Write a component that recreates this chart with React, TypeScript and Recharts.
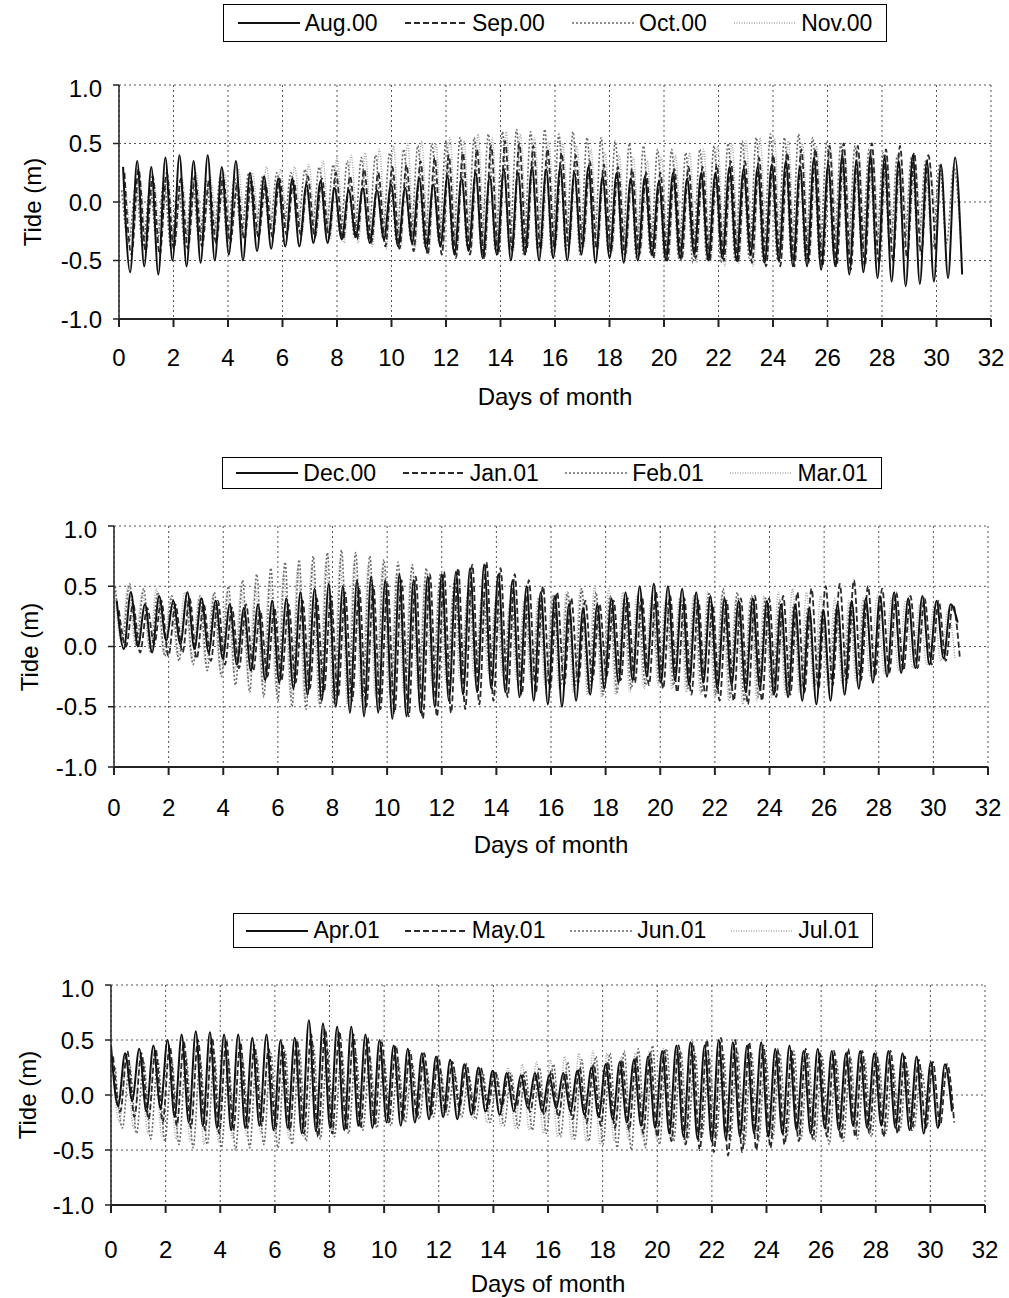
import { CartesianGrid, Line, LineChart, XAxis, YAxis } from 'recharts'

// tidal cycle length in days (semi-diurnal)
const PERIOD = 0.5175
const xTicks = [0, 2, 4, 6, 8, 10, 12, 14, 16, 18, 20, 22, 24, 26, 28, 30, 32]
const yTicks = [-1, -0.5, 0, 0.5, 1]

// ---- panel 1: Aug.00 - Nov.00 (high / low water per cycle, m)
const augHigh = [0.3, 0.35, 0.3, 0.38, 0.4, 0.35, 0.4, 0.3, 0.35, 0.25, 0.22, 0.2, 0.2, 0.15, 0.18, 0.12, 0.1, 0.12, 0.1, 0.15, 0.12, 0.2, 0.15, 0.22, 0.2, 0.25, 0.22, 0.28, 0.25, 0.3, 0.28, 0.3, 0.25, 0.3, 0.22, 0.25, 0.2, 0.22, 0.18, 0.25, 0.2, 0.25, 0.25, 0.3, 0.28, 0.3, 0.32, 0.35, 0.3, 0.38, 0.32, 0.4, 0.35, 0.4, 0.38, 0.35, 0.4, 0.35, 0.32, 0.38]
const augLow = [-0.6, -0.55, -0.62, -0.5, -0.55, -0.52, -0.5, -0.45, -0.5, -0.42, -0.4, -0.38, -0.38, -0.35, -0.35, -0.32, -0.3, -0.35, -0.32, -0.38, -0.35, -0.4, -0.38, -0.45, -0.42, -0.48, -0.45, -0.5, -0.45, -0.5, -0.48, -0.5, -0.45, -0.52, -0.48, -0.52, -0.5, -0.45, -0.5, -0.48, -0.45, -0.5, -0.48, -0.5, -0.45, -0.52, -0.5, -0.55, -0.55, -0.58, -0.55, -0.62, -0.6, -0.65, -0.68, -0.72, -0.7, -0.68, -0.65, -0.62]
const sepHigh = [0.25, 0.28, 0.22, 0.25, 0.2, 0.22, 0.18, 0.2, 0.15, 0.18, 0.15, 0.2, 0.18, 0.22, 0.2, 0.25, 0.22, 0.28, 0.25, 0.3, 0.32, 0.35, 0.38, 0.4, 0.42, 0.45, 0.48, 0.52, 0.5, 0.48, 0.45, 0.42, 0.4, 0.35, 0.32, 0.3, 0.28, 0.25, 0.25, 0.28, 0.3, 0.3, 0.32, 0.35, 0.35, 0.38, 0.4, 0.42, 0.45, 0.45, 0.48, 0.5, 0.48, 0.5, 0.45, 0.48, 0.42, 0.4]
const sepLow = [-0.45, -0.42, -0.45, -0.4, -0.4, -0.38, -0.35, -0.35, -0.32, -0.3, -0.3, -0.28, -0.28, -0.3, -0.3, -0.32, -0.32, -0.35, -0.38, -0.4, -0.42, -0.45, -0.45, -0.48, -0.45, -0.48, -0.45, -0.42, -0.42, -0.4, -0.4, -0.38, -0.38, -0.4, -0.42, -0.45, -0.45, -0.48, -0.5, -0.5, -0.48, -0.5, -0.5, -0.52, -0.52, -0.55, -0.55, -0.55, -0.52, -0.55, -0.55, -0.58, -0.55, -0.52, -0.5, -0.48, -0.45, -0.42]
const octHigh = [0.1, 0.15, 0.12, 0.18, 0.15, 0.2, 0.18, 0.22, 0.2, 0.25, 0.22, 0.25, 0.25, 0.28, 0.3, 0.32, 0.35, 0.38, 0.4, 0.42, 0.45, 0.48, 0.5, 0.52, 0.55, 0.55, 0.58, 0.6, 0.62, 0.6, 0.62, 0.58, 0.6, 0.55, 0.55, 0.52, 0.5, 0.48, 0.45, 0.45, 0.42, 0.45, 0.48, 0.5, 0.52, 0.55, 0.58, 0.55, 0.58, 0.55, 0.52, 0.5, 0.48, 0.45, 0.42, 0.4, 0.38, 0.35, 0.32, 0.3]
const octLow = [-0.35, -0.38, -0.35, -0.4, -0.38, -0.35, -0.32, -0.3, -0.28, -0.25, -0.25, -0.22, -0.22, -0.25, -0.25, -0.28, -0.3, -0.32, -0.3, -0.35, -0.32, -0.38, -0.35, -0.4, -0.38, -0.4, -0.42, -0.4, -0.45, -0.42, -0.45, -0.42, -0.45, -0.4, -0.42, -0.45, -0.48, -0.45, -0.5, -0.48, -0.52, -0.5, -0.52, -0.5, -0.48, -0.52, -0.5, -0.48, -0.5, -0.48, -0.45, -0.45, -0.42, -0.45, -0.42, -0.4, -0.38, -0.4, -0.35, -0.32]
const novHigh = [0.15, 0.2, 0.18, 0.22, 0.2, 0.25, 0.22, 0.25, 0.28, 0.25, 0.3, 0.28, 0.3, 0.32, 0.35, 0.38, 0.4, 0.42, 0.45, 0.48, 0.5, 0.52, 0.5, 0.55, 0.52, 0.58, 0.55, 0.6, 0.58, 0.55, 0.52, 0.5, 0.48, 0.45, 0.42, 0.4, 0.38, 0.35, 0.38, 0.4, 0.42, 0.45, 0.48, 0.5, 0.52, 0.55, 0.55, 0.52, 0.5, 0.48, 0.45, 0.42, 0.4, 0.38, 0.35, 0.32, 0.3, 0.28]
const novLow = [-0.3, -0.32, -0.3, -0.35, -0.32, -0.3, -0.28, -0.25, -0.25, -0.22, -0.25, -0.25, -0.28, -0.3, -0.32, -0.35, -0.35, -0.38, -0.4, -0.4, -0.42, -0.45, -0.42, -0.45, -0.42, -0.45, -0.4, -0.42, -0.38, -0.4, -0.38, -0.35, -0.38, -0.4, -0.42, -0.45, -0.45, -0.48, -0.5, -0.48, -0.52, -0.5, -0.55, -0.52, -0.55, -0.5, -0.48, -0.5, -0.45, -0.48, -0.42, -0.4, -0.38, -0.35, -0.32, -0.3, -0.28, -0.25]

// ---- panel 2: Dec.00 - Mar.01
const decHigh = [0.38, 0.45, 0.35, 0.42, 0.38, 0.45, 0.4, 0.38, 0.35, 0.32, 0.35, 0.38, 0.4, 0.45, 0.48, 0.52, 0.5, 0.55, 0.58, 0.55, 0.6, 0.55, 0.58, 0.6, 0.62, 0.65, 0.68, 0.6, 0.55, 0.5, 0.45, 0.42, 0.35, 0.32, 0.35, 0.4, 0.45, 0.5, 0.52, 0.5, 0.48, 0.45, 0.42, 0.4, 0.38, 0.4, 0.38, 0.35, 0.35, 0.32, 0.3, 0.35, 0.38, 0.4, 0.42, 0.45, 0.4, 0.42, 0.38, 0.35]
const decLow = [-0.02, 0, -0.05, 0.05, 0.02, -0.02, -0.05, -0.1, -0.15, -0.2, -0.28, -0.3, -0.35, -0.4, -0.45, -0.5, -0.55, -0.58, -0.55, -0.6, -0.58, -0.55, -0.5, -0.45, -0.4, -0.38, -0.35, -0.38, -0.42, -0.45, -0.48, -0.5, -0.45, -0.4, -0.35, -0.3, -0.28, -0.25, -0.3, -0.28, -0.32, -0.3, -0.35, -0.32, -0.38, -0.35, -0.4, -0.42, -0.45, -0.48, -0.45, -0.4, -0.35, -0.3, -0.25, -0.22, -0.18, -0.15, -0.1, 0.2]
const janHigh = [0.3, 0.35, 0.32, 0.38, 0.35, 0.4, 0.35, 0.38, 0.32, 0.35, 0.3, 0.32, 0.35, 0.38, 0.4, 0.42, 0.45, 0.48, 0.5, 0.52, 0.55, 0.58, 0.6, 0.62, 0.65, 0.68, 0.7, 0.65, 0.6, 0.55, 0.5, 0.45, 0.4, 0.38, 0.35, 0.38, 0.4, 0.42, 0.45, 0.42, 0.4, 0.38, 0.35, 0.38, 0.4, 0.42, 0.4, 0.42, 0.45, 0.48, 0.5, 0.52, 0.55, 0.5, 0.48, 0.45, 0.42, 0.4, 0.38, 0.35]
const janLow = [0, -0.05, 0.02, -0.08, -0.05, -0.1, -0.12, -0.15, -0.18, -0.2, -0.25, -0.28, -0.3, -0.35, -0.38, -0.42, -0.45, -0.5, -0.52, -0.55, -0.58, -0.6, -0.58, -0.55, -0.52, -0.48, -0.45, -0.42, -0.4, -0.38, -0.35, -0.32, -0.3, -0.28, -0.25, -0.28, -0.3, -0.32, -0.35, -0.38, -0.4, -0.42, -0.45, -0.45, -0.48, -0.45, -0.42, -0.4, -0.38, -0.35, -0.32, -0.3, -0.28, -0.25, -0.22, -0.2, -0.18, -0.15, -0.12, -0.1]
const febHigh = [0.5, 0.52, 0.48, 0.45, 0.42, 0.4, 0.42, 0.45, 0.5, 0.55, 0.6, 0.65, 0.7, 0.72, 0.75, 0.78, 0.8, 0.78, 0.75, 0.72, 0.7, 0.68, 0.65, 0.6, 0.55, 0.5, 0.45, 0.42, 0.4, 0.38, 0.4, 0.42, 0.45, 0.48, 0.45, 0.42, 0.4, 0.38, 0.35, 0.38, 0.4, 0.42, 0.45, 0.48, 0.45, 0.42, 0.4, 0.38, 0.35, 0.32, 0.3, 0.32, 0.35, 0.38]
const febLow = [0.05, 0, -0.05, -0.08, -0.12, -0.15, -0.2, -0.25, -0.32, -0.38, -0.42, -0.45, -0.5, -0.52, -0.5, -0.48, -0.45, -0.42, -0.4, -0.38, -0.35, -0.32, -0.3, -0.28, -0.25, -0.22, -0.2, -0.22, -0.25, -0.28, -0.3, -0.32, -0.35, -0.38, -0.4, -0.38, -0.35, -0.32, -0.3, -0.32, -0.35, -0.38, -0.4, -0.42, -0.45, -0.42, -0.4, -0.38, -0.35, -0.32, -0.3, -0.28, -0.25, -0.22]
const marHigh = [0.55, 0.5, 0.45, 0.48, 0.42, 0.45, 0.4, 0.42, 0.45, 0.48, 0.5, 0.55, 0.6, 0.65, 0.68, 0.7, 0.72, 0.7, 0.68, 0.65, 0.6, 0.58, 0.55, 0.5, 0.45, 0.42, 0.4, 0.38, 0.35, 0.38, 0.4, 0.42, 0.45, 0.48, 0.5, 0.48, 0.45, 0.42, 0.4, 0.38, 0.4, 0.42, 0.45, 0.42, 0.4, 0.38, 0.42, 0.45, 0.48, 0.45, 0.42, 0.4, 0.38, 0.4, 0.42, 0.4, 0.38, 0.35, 0.32, 0.3]
const marLow = [0.05, 0.02, -0.02, -0.05, -0.08, -0.1, -0.15, -0.18, -0.22, -0.28, -0.32, -0.38, -0.42, -0.45, -0.48, -0.5, -0.48, -0.45, -0.42, -0.4, -0.38, -0.35, -0.32, -0.3, -0.28, -0.25, -0.22, -0.25, -0.28, -0.3, -0.32, -0.35, -0.38, -0.4, -0.42, -0.4, -0.38, -0.35, -0.32, -0.35, -0.38, -0.4, -0.42, -0.45, -0.48, -0.45, -0.42, -0.4, -0.38, -0.35, -0.32, -0.3, -0.28, -0.25, -0.22, -0.2, -0.18, -0.15, -0.12, -0.1]

// ---- panel 3: Apr.01 - Jul.01
const aprHigh = [0.45, 0.38, 0.42, 0.45, 0.5, 0.55, 0.58, 0.57, 0.55, 0.55, 0.52, 0.55, 0.5, 0.52, 0.68, 0.65, 0.62, 0.62, 0.55, 0.5, 0.45, 0.42, 0.38, 0.35, 0.32, 0.28, 0.25, 0.22, 0.2, 0.18, 0.2, 0.18, 0.2, 0.22, 0.25, 0.28, 0.3, 0.32, 0.35, 0.4, 0.45, 0.48, 0.45, 0.5, 0.48, 0.45, 0.48, 0.42, 0.45, 0.4, 0.42, 0.4, 0.38, 0.4, 0.38, 0.4, 0.38, 0.35, 0.3, 0.28]
const aprLow = [-0.1, -0.05, -0.15, -0.12, -0.2, -0.25, -0.28, -0.3, -0.32, -0.3, -0.28, -0.32, -0.3, -0.35, -0.33, -0.3, -0.32, -0.28, -0.3, -0.25, -0.28, -0.25, -0.22, -0.2, -0.22, -0.18, -0.15, -0.18, -0.15, -0.12, -0.15, -0.12, -0.15, -0.18, -0.2, -0.22, -0.25, -0.28, -0.3, -0.35, -0.38, -0.4, -0.42, -0.4, -0.38, -0.35, -0.38, -0.35, -0.32, -0.35, -0.3, -0.32, -0.28, -0.3, -0.28, -0.3, -0.32, -0.35, -0.3, -0.15]
const mayHigh = [0.35, 0.4, 0.38, 0.42, 0.45, 0.48, 0.5, 0.52, 0.5, 0.48, 0.45, 0.42, 0.45, 0.5, 0.55, 0.6, 0.58, 0.55, 0.52, 0.48, 0.45, 0.4, 0.38, 0.35, 0.3, 0.28, 0.25, 0.22, 0.2, 0.18, 0.2, 0.22, 0.2, 0.25, 0.28, 0.3, 0.32, 0.35, 0.38, 0.4, 0.45, 0.48, 0.5, 0.52, 0.5, 0.48, 0.45, 0.42, 0.4, 0.42, 0.38, 0.4, 0.42, 0.4, 0.38, 0.4, 0.35, 0.32, 0.3, 0.28]
const mayLow = [-0.15, -0.2, -0.22, -0.25, -0.28, -0.3, -0.32, -0.35, -0.32, -0.3, -0.28, -0.3, -0.32, -0.35, -0.38, -0.35, -0.32, -0.3, -0.28, -0.25, -0.22, -0.2, -0.18, -0.15, -0.12, -0.15, -0.12, -0.1, -0.12, -0.15, -0.18, -0.2, -0.22, -0.25, -0.28, -0.3, -0.32, -0.35, -0.38, -0.42, -0.45, -0.5, -0.52, -0.55, -0.52, -0.5, -0.48, -0.45, -0.42, -0.4, -0.38, -0.4, -0.38, -0.35, -0.38, -0.35, -0.32, -0.3, -0.28, -0.25]
const junHigh = [0.25, 0.28, 0.3, 0.32, 0.3, 0.35, 0.32, 0.35, 0.3, 0.32, 0.35, 0.38, 0.4, 0.42, 0.45, 0.42, 0.4, 0.38, 0.35, 0.32, 0.3, 0.28, 0.25, 0.22, 0.2, 0.18, 0.2, 0.18, 0.2, 0.22, 0.25, 0.28, 0.3, 0.32, 0.35, 0.38, 0.4, 0.42, 0.45, 0.42, 0.4, 0.38, 0.35, 0.38, 0.4, 0.38, 0.35, 0.38, 0.4, 0.38, 0.35, 0.32, 0.35, 0.32, 0.3, 0.28, 0.25, 0.22]
const junLow = [-0.3, -0.35, -0.4, -0.42, -0.45, -0.48, -0.45, -0.48, -0.5, -0.48, -0.45, -0.48, -0.45, -0.42, -0.4, -0.38, -0.35, -0.32, -0.3, -0.28, -0.25, -0.22, -0.2, -0.18, -0.2, -0.22, -0.25, -0.28, -0.3, -0.32, -0.35, -0.38, -0.4, -0.42, -0.45, -0.48, -0.5, -0.48, -0.45, -0.42, -0.4, -0.38, -0.4, -0.42, -0.45, -0.42, -0.4, -0.38, -0.4, -0.42, -0.45, -0.42, -0.4, -0.38, -0.35, -0.32, -0.3, -0.28]
const julHigh = [0.3, 0.32, 0.35, 0.38, 0.4, 0.42, 0.45, 0.42, 0.4, 0.38, 0.35, 0.32, 0.3, 0.32, 0.35, 0.38, 0.4, 0.42, 0.4, 0.38, 0.35, 0.32, 0.3, 0.28, 0.25, 0.22, 0.2, 0.22, 0.25, 0.28, 0.3, 0.32, 0.35, 0.38, 0.4, 0.38, 0.35, 0.38, 0.4, 0.42, 0.4, 0.38, 0.35, 0.32, 0.35, 0.38, 0.4, 0.38, 0.35, 0.32, 0.3, 0.32, 0.35, 0.32, 0.3, 0.28, 0.25, 0.22, 0.2, 0.18]
const julLow = [-0.25, -0.3, -0.35, -0.38, -0.4, -0.42, -0.45, -0.42, -0.4, -0.38, -0.35, -0.38, -0.4, -0.38, -0.35, -0.32, -0.3, -0.28, -0.25, -0.22, -0.2, -0.18, -0.15, -0.18, -0.2, -0.22, -0.25, -0.28, -0.3, -0.32, -0.35, -0.38, -0.4, -0.42, -0.45, -0.42, -0.4, -0.38, -0.4, -0.42, -0.45, -0.42, -0.4, -0.38, -0.35, -0.38, -0.4, -0.38, -0.35, -0.32, -0.35, -0.32, -0.3, -0.28, -0.25, -0.22, -0.2, -0.18, -0.15, -0.12]

const STYLES = [
  { stroke: '#111111', dash: undefined, width: 2 },
  { stroke: '#2a2a2a', dash: '6 3', width: 1.8 },
  { stroke: '#6a6a6a', dash: '2 2', width: 1.6 },
  { stroke: '#a8a8a8', dash: '1 1.5', width: 1.5 },
]

function buildSeries(high: number[], low: number[], phase: number, days: number) {
  const pts: { t: number; y: number }[] = []
  for (let i = 0; i < high.length; i++) {
    const th = phase + i * PERIOD
    if (th <= days) pts.push({ t: +th.toFixed(3), y: high[i] })
    const tl = th + PERIOD / 2
    if (tl <= days && low[i] !== undefined) pts.push({ t: +tl.toFixed(3), y: low[i] })
  }
  return pts
}

const panels = [
  {
    plotLeft: 119, plotRight: 991, plotTop: 85, plotBottom: 319, tickGap: 30, xTitleY: 397, yTitleX: 33,
    legend: { left: 223, top: 4, width: 664, height: 38 },
    series: [
      { name: 'Aug.00', data: buildSeries(augHigh, augLow, 0.15, 31) },
      { name: 'Sep.00', data: buildSeries(sepHigh, sepLow, 0.2, 30) },
      { name: 'Oct.00', data: buildSeries(octHigh, octLow, 0.1, 31) },
      { name: 'Nov.00', data: buildSeries(novHigh, novLow, 0.24, 30) },
    ],
  },
  {
    plotLeft: 114, plotRight: 988, plotTop: 526, plotBottom: 767, tickGap: 32, xTitleY: 845, yTitleX: 30,
    legend: { left: 222, top: 457, width: 660, height: 32 },
    series: [
      { name: 'Dec.00', data: buildSeries(decHigh, decLow, 0.1, 31) },
      { name: 'Jan.01', data: buildSeries(janHigh, janLow, 0.18, 31) },
      { name: 'Feb.01', data: buildSeries(febHigh, febLow, 0.05, 28) },
      { name: 'Mar.01', data: buildSeries(marHigh, marLow, 0.0, 31) },
    ],
  },
  {
    plotLeft: 111, plotRight: 985, plotTop: 985, plotBottom: 1205, tickGap: 36, xTitleY: 1284, yTitleX: 28,
    legend: { left: 233, top: 913, width: 640, height: 35 },
    series: [
      { name: 'Apr.01', data: buildSeries(aprHigh, aprLow, 0.0, 31) },
      { name: 'May.01', data: buildSeries(mayHigh, mayLow, 0.08, 31) },
      { name: 'Jun.01', data: buildSeries(junHigh, junLow, 0.16, 30) },
      { name: 'Jul.01', data: buildSeries(julHigh, julLow, 0.05, 31) },
    ],
  },
]

const FONT = "Arial, 'Liberation Sans', sans-serif"

function Legend({ box, names }: { box: any; names: string[] }) {
  return (
    <div
      style={{
        position: 'absolute', left: box.left, top: box.top, width: box.width, height: box.height,
        border: '1.5px solid #000', boxSizing: 'border-box', display: 'flex', alignItems: 'center',
        justifyContent: 'space-around', fontSize: 23, background: '#fff',
      }}
    >
      {names.map((n, i) => (
        <div key={n} style={{ display: 'flex', alignItems: 'center' }}>
          <svg width={62} height={10}>
            <line x1={0} y1={5} x2={62} y2={5} stroke={STYLES[i].stroke} strokeWidth={STYLES[i].width}
              strokeDasharray={STYLES[i].dash} />
          </svg>
          <span style={{ marginLeft: 5 }}>{n}</span>
        </div>
      ))}
    </div>
  )
}

function Panel({ p }: { p: (typeof panels)[number] }) {
  const top = p.plotTop - 10
  const xAxisH = 70
  const height = p.plotBottom - p.plotTop + 10 + xAxisH
  const yAxisW = 80
  const drawOrder = [3, 2, 1, 0]
  return (
    <>
      <Legend box={p.legend} names={p.series.map((s) => s.name)} />
      <div style={{ position: 'absolute', left: 0, top, width: 1009, height }}>
        <LineChart
          width={1009}
          height={height}
          margin={{ top: 10, right: 1009 - p.plotRight, left: p.plotLeft - yAxisW, bottom: 0 }}
        >
          <CartesianGrid stroke="#555" strokeDasharray="2 3" strokeWidth={1} />
          <XAxis
            type="number" dataKey="t" domain={[0, 32]} ticks={xTicks} allowDataOverflow height={xAxisH}
            tickSize={8} tickMargin={p.tickGap - 8} stroke="#222" strokeWidth={2}
            tick={{ fill: '#000', fontSize: 24, fontFamily: FONT }} interval={0}
          />
          <YAxis
            type="number" domain={[-1, 1]} ticks={yTicks} width={yAxisW} allowDataOverflow
            tickFormatter={(v: number) => v.toFixed(1)} tickSize={6} tickMargin={11}
            stroke="#222" strokeWidth={1.5} tick={{ fill: '#000', fontSize: 24, fontFamily: FONT }}
          />
          {drawOrder.map((i) => (
            <Line
              key={p.series[i].name}
              data={p.series[i].data}
              dataKey="y"
              type="monotone"
              dot={false}
              stroke={STYLES[i].stroke}
              strokeWidth={STYLES[i].width}
              strokeDasharray={STYLES[i].dash}
              isAnimationActive={false}
            />
          ))}
        </LineChart>
      </div>
      <div
        style={{
          position: 'absolute', left: (p.plotLeft + p.plotRight) / 2 - 150, width: 300,
          top: p.xTitleY - 14, textAlign: 'center', fontSize: 24, lineHeight: '28px',
        }}
      >
        Days of month
      </div>
      <div
        style={{
          position: 'absolute', left: p.yTitleX - 70, width: 140, top: (p.plotTop + p.plotBottom) / 2 - 14,
          textAlign: 'center', fontSize: 24, lineHeight: '28px', transform: 'rotate(-90deg)',
        }}
      >
        Tide (m)
      </div>
    </>
  )
}

export default function App() {
  return (
    <div
      style={{
        position: 'absolute', left: 0, top: 0, width: 1009, height: 1298, background: '#fff',
        fontFamily: FONT, color: '#000', overflow: 'hidden',
      }}
    >
      {panels.map((p, i) => (
        <Panel key={i} p={p} />
      ))}
    </div>
  )
}
